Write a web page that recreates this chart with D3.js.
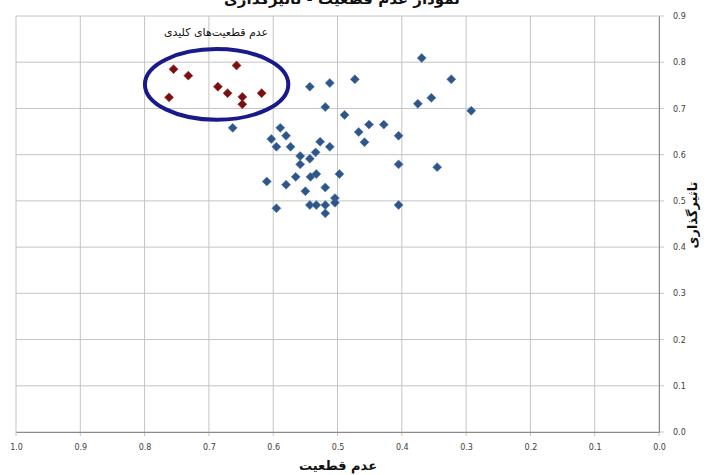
<!DOCTYPE html>
<html>
<head>
<meta charset="utf-8" />
<title>Uncertainty - Impact</title>
<script src="https://cdnjs.cloudflare.com/ajax/libs/d3/7.8.5/d3.min.js"></script>
<style>
  body { margin: 0; background: #fff; }
  svg { display: block; }
  .tick text { font-family: "DejaVu Sans", sans-serif; font-size: 8px; fill: #404040; }
  .fa { font-family: "DejaVu Sans", sans-serif; direction: rtl; }
</style>
</head>
<body>
<svg width="711" height="475"></svg>
<script>
// uncertainty (x) / impact (y) of the ordinary factors
const blueX = [0.369, 0.323, 0.473, 0.543, 0.512, 0.519, 0.489, 0.375, 0.354, 0.292,
  0.663, 0.589, 0.603, 0.580, 0.595, 0.573, 0.451, 0.428, 0.467, 0.458,
  0.405, 0.527, 0.512, 0.534, 0.558, 0.543, 0.558, 0.405, 0.345, 0.610,
  0.580, 0.565, 0.542, 0.533, 0.497, 0.550, 0.519, 0.504, 0.504, 0.543,
  0.533, 0.519, 0.519, 0.595, 0.405]
const blueY = [0.809, 0.763, 0.763, 0.747, 0.755, 0.703, 0.686, 0.710, 0.723, 0.695,
  0.658, 0.658, 0.634, 0.641, 0.617, 0.617, 0.665, 0.665, 0.649, 0.627,
  0.641, 0.628, 0.617, 0.605, 0.597, 0.591, 0.579, 0.579, 0.573, 0.542,
  0.535, 0.552, 0.552, 0.558, 0.558, 0.521, 0.529, 0.506, 0.496, 0.491,
  0.491, 0.491, 0.473, 0.484, 0.491]

// key uncertainties
const redX = [0.755, 0.732, 0.657, 0.686, 0.671, 0.648, 0.648, 0.618, 0.762]
const redY = [0.785, 0.771, 0.793, 0.747, 0.733, 0.725, 0.709, 0.733, 0.724]

const xTicks = [1.0, 0.9, 0.8, 0.7, 0.6, 0.5, 0.4, 0.3, 0.2, 0.1, 0.0]
const yTicks = [0.0, 0.1, 0.2, 0.3, 0.4, 0.5, 0.6, 0.7, 0.8, 0.9]

const chartTitle = 'نمودار عدم قطعیت - تاثیرگذاری'
const xTitle = 'عدم قطعیت'
const yTitle = 'تاثیرگذاری'
const keyLabel = 'عدم قطعیت‌های کلیدی'

const svg = d3.select('svg')
const plotLeft = 16, plotRight = 659, plotTop = 16, plotBottom = 432

let x = d3.scaleLinear().domain([1, 0]).range([plotLeft, plotRight])
let y = d3.scaleLinear().domain([0, 0.9]).range([plotBottom, plotTop])

// grid
svg.append('g').selectAll('line')
  .data(xTicks)
  .enter().append('line')
  .attr('x1', d => x(d)).attr('x2', d => x(d))
  .attr('y1', plotTop).attr('y2', plotBottom + 4)
  .style('stroke', '#c4c4c4').style('stroke-width', 1)

svg.append('g').selectAll('line')
  .data(yTicks)
  .enter().append('line')
  .attr('x1', plotLeft).attr('x2', plotRight + 5)
  .attr('y1', d => y(d)).attr('y2', d => y(d))
  .style('stroke', '#c4c4c4').style('stroke-width', 1)

// axes
let xAxis = d3.axisBottom(x).tickValues(xTicks).tickFormat(d3.format('.1f')).tickSize(0).tickPadding(12)
svg.append('g').attr('transform', 'translate(0,' + plotBottom + ')').call(xAxis)
  .call(g => g.select('.domain').style('stroke', '#8a8a8a'))

let yAxis = d3.axisRight(y).tickValues(yTicks).tickFormat(d3.format('.1f')).tickSize(0).tickPadding(14)
svg.append('g').attr('transform', 'translate(' + plotRight + ',0)').call(yAxis)
  .call(g => g.select('.domain').style('stroke', '#8a8a8a'))

// points
const diamond = d3.symbol().type(d3.symbolSquare).size(40)

function drawPoints(xs, ys, fill, stroke) {
  svg.append('g').selectAll('path')
    .data(xs.map((v, i) => [v, ys[i]]))
    .enter().append('path')
    .attr('d', diamond)
    .attr('transform', d => 'translate(' + x(d[0]) + ',' + y(d[1]) + ') rotate(45)')
    .style('fill', fill)
    .style('stroke', stroke)
    .style('stroke-width', 0.6)
}
drawPoints(blueX, blueY, '#2f5688', '#4a74a8')
drawPoints(redX, redY, '#7a0f12', '#9a2a2a')

// key uncertainties ellipse
const ellCx = 0.688, ellCy = 0.752, ellRx = 0.1115, ellRy = 0.0764
svg.append('ellipse')
  .attr('cx', x(ellCx)).attr('cy', y(ellCy))
  .attr('rx', x(1 - ellRx) - x(1)).attr('ry', y(0) - y(ellRy))
  .style('fill', 'none')
  .style('stroke', '#18198a')
  .style('stroke-width', 4)

svg.append('text').attr('class', 'fa')
  .attr('x', 216).attr('y', 36)
  .attr('text-anchor', 'middle')
  .style('font-size', '11px').style('fill', '#111')
  .text(keyLabel)

// titles
svg.append('text').attr('class', 'fa')
  .attr('x', 342).attr('y', 4)
  .attr('text-anchor', 'middle')
  .style('font-size', '15px').style('font-weight', 'bold').style('fill', '#111')
  .text(chartTitle)

svg.append('text').attr('class', 'fa')
  .attr('x', 338).attr('y', 470)
  .attr('text-anchor', 'middle')
  .style('font-size', '13px').style('font-weight', 'bold').style('fill', '#111')
  .text(xTitle)

svg.append('text').attr('class', 'fa')
  .attr('transform', 'translate(697,215) rotate(-90)')
  .attr('text-anchor', 'middle')
  .style('font-size', '13px').style('font-weight', 'bold').style('fill', '#111')
  .text(yTitle)
</script>
</body>
</html>
